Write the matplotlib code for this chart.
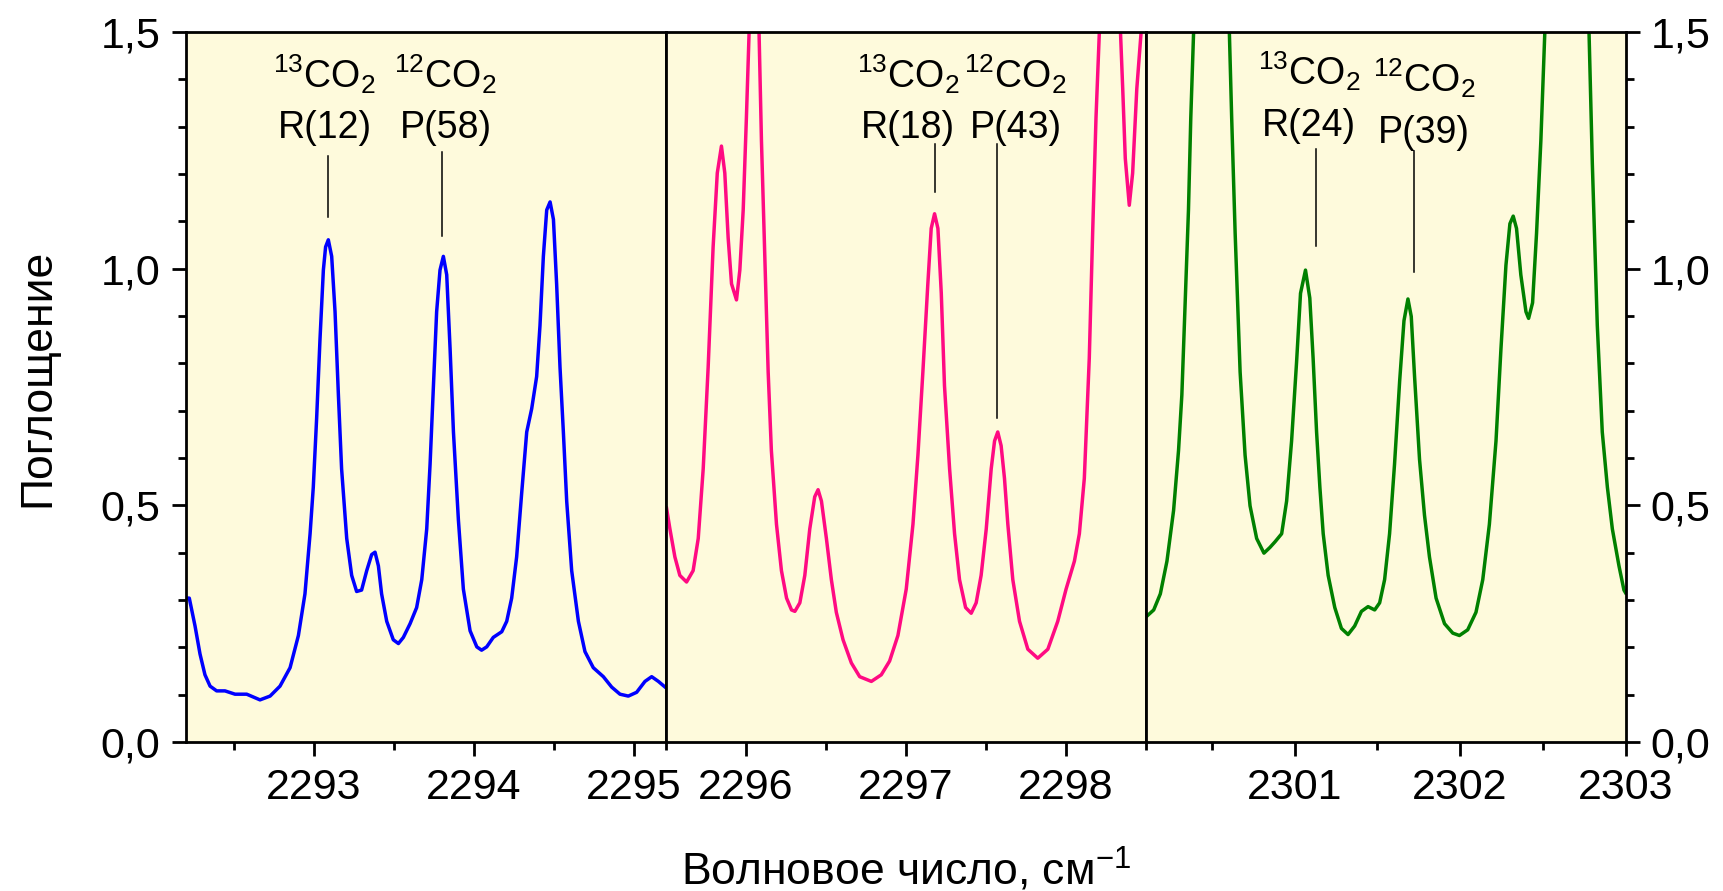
import numpy as np
import matplotlib
matplotlib.use("Agg")
import matplotlib.pyplot as plt
from matplotlib.ticker import FixedLocator

plt.rcParams['font.family'] = ['Liberation Sans', 'DejaVu Sans']
plt.rcParams['mathtext.fontset'] = 'custom'
plt.rcParams['mathtext.rm'] = 'Liberation Sans'
plt.rcParams['mathtext.it'] = 'Liberation Sans:italic'
plt.rcParams['mathtext.bf'] = 'Liberation Sans:bold'
plt.rcParams['mathtext.default'] = 'regular'

# --- data (wavenumber, absorbance) ---
blue_x = [2292.202, 2292.223, 2292.259, 2292.290, 2292.321, 2292.353, 2292.394, 2292.446,
          2292.509, 2292.582, 2292.665, 2292.728, 2292.790, 2292.853, 2292.905, 2292.946,
          2292.978, 2292.998, 2293.019, 2293.040, 2293.061, 2293.075, 2293.092, 2293.113,
          2293.134, 2293.155, 2293.175, 2293.207, 2293.238, 2293.269, 2293.300, 2293.332,
          2293.363, 2293.384, 2293.405, 2293.425, 2293.457, 2293.498, 2293.530, 2293.561,
          2293.603, 2293.644, 2293.676, 2293.707, 2293.728, 2293.749, 2293.769, 2293.790,
          2293.811, 2293.832, 2293.853, 2293.874, 2293.905, 2293.936, 2293.978, 2294.020,
          2294.050, 2294.082, 2294.123, 2294.176, 2294.207, 2294.238, 2294.269, 2294.301,
          2294.332, 2294.363, 2294.394, 2294.415, 2294.436, 2294.457, 2294.478, 2294.499,
          2294.519, 2294.540, 2294.561, 2294.582, 2294.613, 2294.655, 2294.696, 2294.748,
          2294.811, 2294.863, 2294.915, 2294.967, 2295.019, 2295.071, 2295.113, 2295.155,
          2295.197]
blue_y = [0.304, 0.304, 0.245, 0.186, 0.142, 0.118, 0.108, 0.108,
          0.101, 0.101, 0.089, 0.097, 0.118, 0.157, 0.225, 0.313,
          0.440, 0.538, 0.684, 0.851, 0.997, 1.046, 1.061, 1.026,
          0.909, 0.733, 0.577, 0.430, 0.352, 0.318, 0.321, 0.362,
          0.396, 0.401, 0.372, 0.313, 0.255, 0.216, 0.208, 0.221,
          0.250, 0.284, 0.343, 0.450, 0.587, 0.753, 0.909, 0.997,
          1.026, 0.987, 0.831, 0.655, 0.469, 0.323, 0.235, 0.201,
          0.194, 0.201, 0.221, 0.233, 0.255, 0.304, 0.391, 0.528,
          0.655, 0.704, 0.772, 0.880, 1.026, 1.124, 1.141, 1.104,
          0.967, 0.792, 0.655, 0.508, 0.362, 0.255, 0.191, 0.157,
          0.138, 0.116, 0.101, 0.097, 0.105, 0.128, 0.138, 0.128,
          0.116]

pink_x = [2295.506, 2295.527, 2295.558, 2295.589, 2295.631, 2295.672, 2295.704, 2295.735,
          2295.766, 2295.797, 2295.823, 2295.849, 2295.870, 2295.891, 2295.912, 2295.943,
          2295.964, 2295.985, 2296.005, 2296.022, 2296.053, 2296.084, 2296.099, 2296.120,
          2296.141, 2296.161, 2296.193, 2296.224, 2296.256, 2296.287, 2296.308, 2296.339,
          2296.370, 2296.401, 2296.432, 2296.453, 2296.474, 2296.505, 2296.536, 2296.567,
          2296.609, 2296.661, 2296.713, 2296.786, 2296.848, 2296.900, 2296.952, 2297.004,
          2297.046, 2297.077, 2297.108, 2297.139, 2297.160, 2297.181, 2297.202, 2297.223,
          2297.243, 2297.275, 2297.306, 2297.337, 2297.375, 2297.410, 2297.441, 2297.472,
          2297.504, 2297.535, 2297.556, 2297.576, 2297.597, 2297.618, 2297.639, 2297.670,
          2297.712, 2297.764, 2297.826, 2297.889, 2297.951, 2298.003, 2298.055, 2298.086,
          2298.117, 2298.148, 2298.169, 2298.190, 2298.211, 2298.273, 2298.343, 2298.357,
          2298.373, 2298.398, 2298.419, 2298.445, 2298.472, 2298.497]
pink_y = [0.494, 0.450, 0.391, 0.352, 0.338, 0.362, 0.430, 0.577,
          0.792, 1.046, 1.202, 1.259, 1.202, 1.065, 0.968, 0.934,
          0.997, 1.124, 1.319, 1.500, 2.200, 1.500, 1.271, 1.026,
          0.782, 0.616, 0.460, 0.362, 0.304, 0.279, 0.276, 0.294,
          0.352, 0.450, 0.518, 0.533, 0.509, 0.430, 0.343, 0.274,
          0.216, 0.167, 0.138, 0.128, 0.142, 0.171, 0.225, 0.323,
          0.460, 0.606, 0.782, 0.968, 1.085, 1.116, 1.085, 0.948,
          0.753, 0.577, 0.440, 0.343, 0.284, 0.272, 0.294, 0.352,
          0.450, 0.577, 0.636, 0.655, 0.626, 0.557, 0.460, 0.343,
          0.255, 0.196, 0.177, 0.196, 0.255, 0.323, 0.382, 0.440,
          0.557, 0.811, 1.075, 1.319, 1.500, 3.000, 1.500, 1.380,
          1.233, 1.134, 1.202, 1.380, 1.500, 1.750]

green_x = [2300.108, 2300.149, 2300.189, 2300.229, 2300.269, 2300.299, 2300.319, 2300.339,
           2300.359, 2300.373, 2300.390, 2300.500, 2300.606, 2300.620, 2300.641, 2300.671,
           2300.701, 2300.731, 2300.771, 2300.815, 2300.851, 2300.882, 2300.922, 2300.952,
           2300.982, 2301.012, 2301.036, 2301.066, 2301.092, 2301.112, 2301.133, 2301.153,
           2301.173, 2301.203, 2301.243, 2301.283, 2301.323, 2301.363, 2301.404, 2301.444,
           2301.484, 2301.514, 2301.544, 2301.574, 2301.604, 2301.635, 2301.661, 2301.685,
           2301.705, 2301.725, 2301.755, 2301.785, 2301.815, 2301.855, 2301.906, 2301.956,
           2301.996, 2302.046, 2302.096, 2302.137, 2302.177, 2302.217, 2302.247, 2302.277,
           2302.301, 2302.321, 2302.341, 2302.367, 2302.398, 2302.414, 2302.438, 2302.462,
           2302.488, 2302.512, 2302.645, 2302.779, 2302.799, 2302.829, 2302.859, 2302.890,
           2302.920, 2302.960, 2302.990, 2303.000]
green_y = [0.266, 0.279, 0.313, 0.382, 0.489, 0.616, 0.733, 0.928,
           1.124, 1.319, 1.500, 2.500, 1.500, 1.319, 1.075, 0.782,
           0.606, 0.499, 0.430, 0.399, 0.411, 0.423, 0.440, 0.509,
           0.636, 0.802, 0.948, 0.997, 0.938, 0.811, 0.655, 0.538,
           0.440, 0.352, 0.284, 0.240, 0.227, 0.245, 0.276, 0.286,
           0.279, 0.294, 0.343, 0.440, 0.587, 0.763, 0.890, 0.936,
           0.899, 0.772, 0.597, 0.479, 0.391, 0.304, 0.250, 0.230,
           0.225, 0.237, 0.274, 0.343, 0.460, 0.636, 0.831, 1.007,
           1.095, 1.111, 1.085, 0.987, 0.909, 0.895, 0.928, 1.075,
           1.270, 1.500, 2.500, 1.500, 1.222, 0.880, 0.655, 0.538,
           0.450, 0.372, 0.321, 0.315]

panel_xlims = [(2292.2, 2295.2), (2295.5, 2298.5), (2300.1, 2303.0)]
panel_major = [[2293, 2294, 2295], [2296, 2297, 2298], [2301, 2302, 2303]]
panel_minor = [[2292.5, 2293.5, 2294.5], [2295.5, 2296.5, 2297.5, 2298.5],
               [2300.5, 2301.5, 2302.5]]
y_ticks = [0.0, 0.5, 1.0, 1.5]
y_ticklabels = ['0,0', '0,5', '1,0', '1,5']

# line labels: text x, species, transition, line x, line top, line bottom, baselines
labels = [
    [(2293.070, r'$^{13}$CO$_2$', 'R(12)', 2293.088, 1.238, 1.109, 1.383, 1.276),
     (2293.826, r'$^{12}$CO$_2$', 'P(58)', 2293.804, 1.246, 1.068, 1.383, 1.276)],
    [(2297.017, r'$^{13}$CO$_2$', 'R(18)', 2297.181, 1.263, 1.161, 1.383, 1.276),
     (2297.687, r'$^{12}$CO$_2$', 'P(43)', 2297.572, 1.263, 0.685, 1.383, 1.276)],
    [(2301.089, r'$^{13}$CO$_2$', 'R(24)', 2301.127, 1.253, 1.048, 1.388, 1.280),
     (2301.782, r'$^{12}$CO$_2$', 'P(39)', 2301.719, 1.249, 0.992, 1.373, 1.266)],
]

series = [(blue_x, blue_y, '#0000ff'), (pink_x, pink_y, '#ff0a82'), (green_x, green_y, '#008000')]

W, H = 1724, 891
fig = plt.figure(figsize=(W / 100, H / 100), dpi=100)
left_px, top_px, bottom_px, panel_w = 185.6, 32.0, 742.0, 480.0

for i in range(3):
    ax = fig.add_axes([(left_px + i * panel_w) / W, (H - bottom_px) / H,
                       panel_w / W, (bottom_px - top_px) / H])
    ax.set_facecolor('#fefadc')
    x, y, c = series[i]
    ax.plot(x, y, color=c, lw=2.5, solid_joinstyle='round')
    ax.set_xlim(*panel_xlims[i])
    ax.set_ylim(0, 1.5)
    ax.xaxis.set_major_locator(FixedLocator(panel_major[i]))
    ax.xaxis.set_minor_locator(FixedLocator(panel_minor[i]))
    ax.set_xticklabels([str(v) for v in panel_major[i]])
    ax.yaxis.set_major_locator(FixedLocator(y_ticks))
    ax.yaxis.set_minor_locator(FixedLocator(np.arange(0.1, 1.5, 0.1)))
    ax.set_yticklabels(y_ticklabels)
    ax.tick_params(axis='both', which='major', direction='out', length=10, width=2,
                   labelsize=31)
    ax.tick_params(axis='both', which='minor', direction='out', length=5.8, width=2)
    ax.tick_params(axis='x', which='major', pad=9)
    for s in ax.spines.values():
        s.set_linewidth(2)
    if i == 0:
        ax.tick_params(axis='y', which='both', left=True, right=False, pad=8)
    elif i == 1:
        ax.tick_params(axis='y', which='both', left=False, right=False, labelleft=False)
    else:
        ax.yaxis.tick_right()
        ax.tick_params(axis='y', which='both', left=False, right=True, pad=8)
    for tx, spec, lab, lx, ltop, lbot, b1, b2 in labels[i]:
        ax.text(tx, b1, spec, ha='center', va='baseline', fontsize=27)
        ax.text(tx, b2, lab, ha='center', va='baseline', fontsize=27)
        ax.plot([lx, lx], [lbot, ltop], color='black', lw=1.1)

fig.text(905.7 / W, (H - 885) / H, 'Волновое число, см$^{-1}$', ha='center', va='baseline',
         fontsize=32)
fig.text(38 / W, (H - 378) / H, 'Поглощение', rotation=90, ha='center', va='center',
         fontsize=32)

fig.savefig('out.png', dpi=100, facecolor='white')
